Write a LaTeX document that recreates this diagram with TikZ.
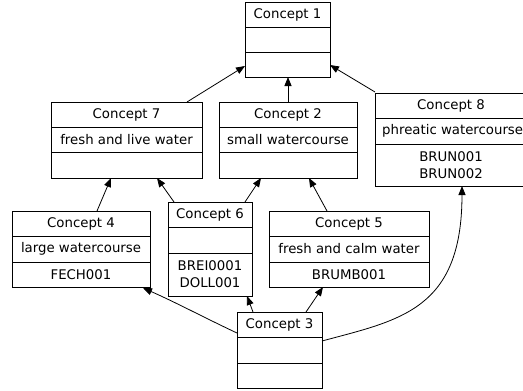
\documentclass[tikz,border=0pt]{standalone}
\usepackage{fontspec}
\setmainfont{DejaVu Sans}
\usetikzlibrary{arrows.meta,calc}
\tikzset{
  cbox/.style={draw, line width=0.8pt, anchor=north west, inner sep=0pt},
  rowline/.style={line width=0.8pt},
  lbl/.style={inner sep=0pt, align=center, font=\fontsize{13.3}{15}\selectfont},
  lbltwo/.style={lbl, font=\fontsize{13.3}{17}\selectfont},
  edge/.style={line width=0.8pt, -{Triangle[length=9pt,width=7pt]}}
}
\begin{document}
\begin{tikzpicture}[x=1pt,y=-1pt]
\useasboundingbox[fill=white] (0,0) rectangle (523,391);
% Concept 1
\node[cbox, minimum width=85pt, minimum height=75pt] (c1) at (245,2) {};
\draw[rowline] (245,27) -- (330,27) (245,52) -- (330,52);
\node[lbl] (c1h) at (287.5,14.5) {Concept 1};
% Concept 7
\node[cbox, minimum width=151pt, minimum height=76pt] (c7) at (51,102) {};
\draw[rowline] (51,127) -- (202,127) (51,152) -- (202,152);
\node[lbl] (c7h) at (126.5,114.5) {Concept 7};
\node[lbl] (c7a) at (126.5,139.5) {fresh and live water};
% Concept 2
\node[cbox, minimum width=138pt, minimum height=76pt] (c2) at (219,102) {};
\draw[rowline] (219,127) -- (357,127) (219,152) -- (357,152);
\node[lbl] (c2h) at (288,114.5) {Concept 2};
\node[lbl] (c2a) at (288,139.5) {small watercourse};
% Concept 8
\node[cbox, minimum width=149pt, minimum height=93pt] (c8) at (375,93) {};
\draw[rowline] (375,118) -- (524,118) (375,144) -- (524,144);
\node[lbl] (c8h) at (451,105.5) {Concept 8};
\node[lbl, anchor=west] (c8a) at (382,131) {phreatic watercourse};
\node[lbltwo] (c8o) at (451,165) {BRUN001\\BRUN002};
% Concept 4
\node[cbox, minimum width=138pt, minimum height=76pt] (c4) at (12,211) {};
\draw[rowline] (12,236) -- (150,236) (12,262) -- (150,262);
\node[lbl] (c4h) at (81,223.5) {Concept 4};
\node[lbl] (c4a) at (81,249) {large watercourse};
\node[lbl] (c4o) at (81,274.5) {FECH001};
% Concept 6
\node[cbox, minimum width=84pt, minimum height=94pt] (c6) at (168,202) {};
\draw[rowline] (168,227) -- (252,227) (168,253) -- (252,253);
\node[lbl] (c6h) at (210,214.5) {Concept 6};
\node[lbltwo] (c6o) at (210,274.5) {BREI0001\\DOLL001};
% Concept 5
\node[cbox, minimum width=160pt, minimum height=76pt] (c5) at (269,211) {};
\draw[rowline] (269,236) -- (429,236) (269,262) -- (429,262);
\node[lbl] (c5h) at (349,223.5) {Concept 5};
\node[lbl] (c5a) at (349,249) {fresh and calm water};
\node[lbl] (c5o) at (349,274.5) {BRUMB001};
% Concept 3
\node[cbox, minimum width=85pt, minimum height=76pt] (c3) at (237,312) {};
\draw[rowline] (237,337) -- (322,337) (237,363) -- (322,363);
\node[lbl] (c3h) at (279.5,324.5) {Concept 3};
% edges
\draw[edge] ($(c7.north west)+(136,0)$) -- ($(c1.north west)+(0,64)$);
\draw[edge] ($(c2.north west)+(69,0)$) -- ($(c1.north west)+(43,75)$);
\draw[edge] ($(c8.north west)+(0,-1)$) -- ($(c1.north west)+(85,63)$);
\draw[edge] ($(c4.north west)+(85,0)$) -- ($(c7.north west)+(60,76)$);
\draw[edge] ($(c6.north west)+(6,0)$) -- ($(c7.north west)+(106,76)$);
\draw[edge] ($(c6.north west)+(77,0)$) -- ($(c2.north west)+(42,76)$);
\draw[edge] ($(c5.north west)+(58,0)$) -- ($(c2.north west)+(90,76)$);
\draw[edge] ($(c3.north west)+(16,0)$) -- ($(c6.north west)+(79,94)$);
\draw[edge] ($(c3.north west)+(69,0)$) -- ($(c5.north west)+(54,76)$);
\draw[edge] ($(c3.north west)+(0,21)$) .. controls (205,318) and (175,302) .. ($(c4.north west)+(131,77)$);
\draw[edge] ($(c3.north west)+(85,29)$) .. controls (400,320) and (462,310) .. ($(c8.north west)+(87,93)$);
\end{tikzpicture}
\end{document}
